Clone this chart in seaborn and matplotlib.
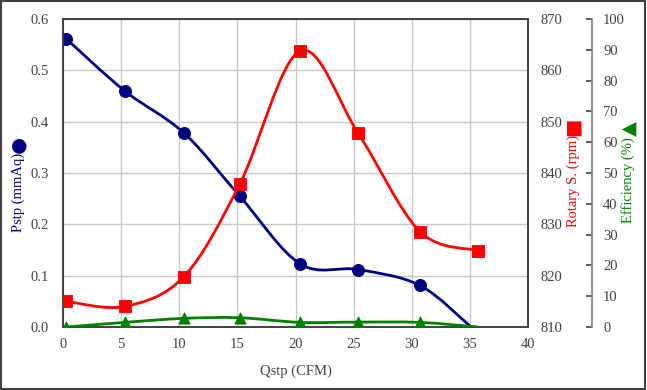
import matplotlib
matplotlib.use("Agg")
import matplotlib.pyplot as plt
import seaborn as sns
import numpy as np
from matplotlib.path import Path
from matplotlib.patches import PathPatch, Rectangle

# values
qstp = [0.3, 5.3, 10.4, 15.2, 20.4, 25.4, 30.7]
pstp = [0.561, 0.460, 0.378, 0.255, 0.123, 0.112, 0.081]
pstp_end = (35.1, 0.0)
rotary = [815.0, 814.0, 819.8, 837.8, 863.8, 847.7, 828.6, 824.9]
qstp_rot = qstp + [35.7]
eff = [0.0, 1.5, 2.8, 3.0, 1.5, 1.6, 1.5]
eff_end = (35.7, 0.0)

NAVY = "#000080"
RED = "#ff0000"
GREEN = "#008000"
GREY = "#404040"

W, H = 647, 390
X0, X1, Y0, Y1 = 63, 528, 327, 19


def smooth_path(xs, ys):
    # Excel-like smoothed line: Catmull-Rom segments as cubic Bezier
    pts = np.column_stack([xs, ys]).astype(float)
    verts = [pts[0]]
    codes = [Path.MOVETO]
    n = len(pts)
    for i in range(n - 1):
        p0 = pts[i - 1] if i > 0 else pts[i]
        p1, p2 = pts[i], pts[i + 1]
        p3 = pts[i + 2] if i + 2 < n else pts[i + 1]
        c1 = p1 + (p2 - p0) / 6.0
        c2 = p2 - (p3 - p1) / 6.0
        verts += [c1, c2, p2]
        codes += [Path.CURVE4] * 3
    return Path(verts, codes)


def ax_xy(px, py):
    return (px - X0) / (X1 - X0), (Y0 - py) / (Y0 - Y1)


sns.set_style("white")
plt.rcParams["font.family"] = ["Liberation Serif", "DejaVu Sans"]
plt.rcParams["font.size"] = 10.5

fig = plt.figure(figsize=(W / 100, H / 100), dpi=100)
ax = fig.add_axes([X0 / W, 1 - Y0 / H, (X1 - X0) / W, (Y0 - Y1) / H])
ax2 = ax.twinx()
ax3 = ax.twinx()

# pressure
ax.add_patch(PathPatch(smooth_path(qstp + [pstp_end[0]], pstp + [pstp_end[1]]),
                       fill=False, edgecolor=NAVY, lw=2, zorder=3))
sns.scatterplot(x=qstp, y=pstp, ax=ax, color=NAVY, marker="o", s=75,
                edgecolor=NAVY, zorder=4)

# rotary speed
ax2.add_patch(PathPatch(smooth_path(qstp_rot, rotary), fill=False,
                        edgecolor=RED, lw=2, zorder=3))
sns.scatterplot(x=qstp_rot, y=rotary, ax=ax2, color=RED, marker="s", s=65,
                edgecolor=RED, zorder=4)

# efficiency
ax3.add_patch(PathPatch(smooth_path(qstp + [eff_end[0]], eff + [eff_end[1]]),
                        fill=False, edgecolor=GREEN, lw=2, zorder=3))
sns.scatterplot(x=qstp, y=eff, ax=ax3, color=GREEN, marker="^", s=65,
                edgecolor=GREEN, zorder=4)

ax.set_xlim(0, 40)
ax.set_ylim(0, 0.6)
ax2.set_ylim(810, 870)
ax3.set_ylim(0, 100)
ax.set_xticks(range(0, 41, 5))
ax.set_yticks(np.arange(0, 0.61, 0.1))
ax.set_yticklabels([f"{v:.1f}" for v in np.arange(0, 0.61, 0.1)])
ax2.set_yticks(range(810, 871, 10))
ax3.set_yticks(range(0, 101, 10))

ax.grid(True, color="#c8c8c8", lw=1)
ax.set_axisbelow(True)
for a in (ax, ax2):
    for s in a.spines.values():
        s.set_color(GREY)
        s.set_linewidth(1.2)

ax.tick_params(axis="both", length=0, colors=GREY, labelsize=10.5)
ax.tick_params(axis="y", pad=10)
ax.tick_params(axis="x", pad=8)
ax2.tick_params(axis="y", length=0, colors=GREY, labelsize=10.5, pad=9)

ax3.spines["right"].set_position(("axes", (592 - X0) / (X1 - X0)))
for k in ("left", "top", "bottom"):
    ax3.spines[k].set_visible(False)
ax3.spines["right"].set_color("#808080")
ax3.spines["right"].set_linewidth(1.2)
ax3.tick_params(axis="y", direction="in", length=4, width=1.2, color=GREY,
                labelcolor=GREY, labelsize=10.5, pad=8)

ax.set_xlabel("Qstp (CFM)", color=GREY, labelpad=10)

# axis titles with their series symbol at the top end
titles = [
    ("Pstp (mmAq)", NAVY, (18, 192.5), "\u25cf", (18, 144), 14),
    ("Rotary S. (rpm)", RED, (573, 181), "\u25a0", (572, 127), 14),
    ("Efficiency (%)", GREEN, (628, 180.5), "\u25b2", (629, 128), 14),
]
for label, col, lpos, sym, spos, sz in titles:
    ax.text(*ax_xy(*lpos), label, transform=ax.transAxes, rotation=90,
            color=col, fontsize=10.5, ha="center", va="center",
            rotation_mode="anchor")
    ax.text(*ax_xy(*spos), sym, transform=ax.transAxes, rotation=90,
            color=col, fontsize=sz, family="DejaVu Sans", ha="center",
            va="center", rotation_mode="anchor")

fig.patches.append(Rectangle((0.002, 0.003), 0.995, 0.994, transform=fig.transFigure,
                             fill=False, edgecolor=GREY, lw=1.5))

fig.savefig("out.png", dpi=100)
